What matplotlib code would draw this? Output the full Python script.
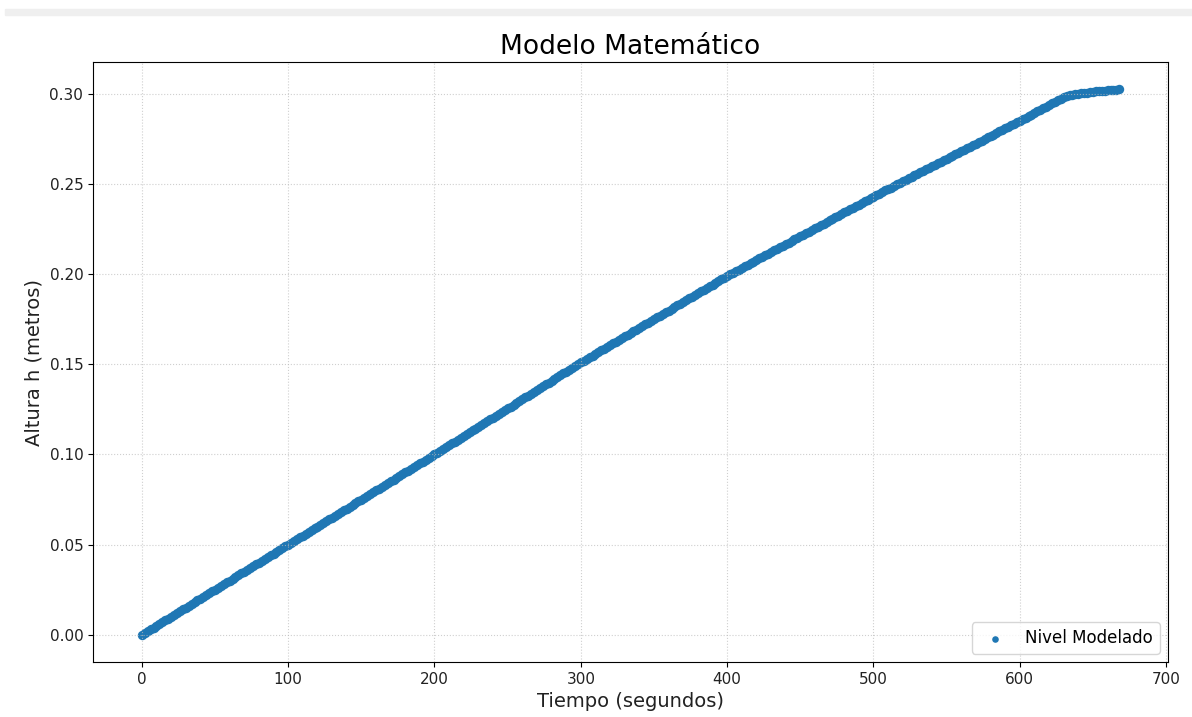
import numpy as np
import matplotlib
matplotlib.use("Agg")
import matplotlib.pyplot as plt
from matplotlib.patches import Rectangle

# Tiempo (s), one sample every 2 s
tiempo = np.arange(0, 669, 2)

# Altura h (m)
altura = [
    0.000, 0.001, 0.002, 0.003, 0.004, 0.005, 0.006, 0.007, 0.008, 0.009,
    0.010, 0.011, 0.012, 0.013, 0.014, 0.015, 0.016, 0.017, 0.018, 0.019,
    0.020, 0.021, 0.022, 0.023, 0.024, 0.025, 0.026, 0.027, 0.028, 0.029,
    0.030, 0.031, 0.032, 0.033, 0.034, 0.035, 0.036, 0.037, 0.038, 0.039,
    0.040, 0.041, 0.042, 0.043, 0.044, 0.045, 0.046, 0.047, 0.048, 0.049,
    0.050, 0.051, 0.052, 0.053, 0.054, 0.055, 0.056, 0.057, 0.058, 0.059,
    0.060, 0.061, 0.062, 0.063, 0.064, 0.065, 0.066, 0.067, 0.068, 0.069,
    0.070, 0.071, 0.072, 0.073, 0.074, 0.075, 0.076, 0.077, 0.078, 0.079,
    0.080, 0.081, 0.082, 0.083, 0.084, 0.085, 0.086, 0.087, 0.088, 0.089,
    0.090, 0.091, 0.092, 0.093, 0.094, 0.095, 0.096, 0.097, 0.098, 0.099,
    0.1000,
    # 202 .. 300
    0.1010, 0.1020, 0.1031, 0.1041, 0.1051, 0.1061, 0.1071, 0.1082, 0.1092, 0.1102,
    0.1112, 0.1122, 0.1133, 0.1143, 0.1153, 0.1163, 0.1173, 0.1184, 0.1194, 0.1204,
    0.1214, 0.1224, 0.1235, 0.1245, 0.1255, 0.1265, 0.1275, 0.1286, 0.1296, 0.1306,
    0.1316, 0.1326, 0.1337, 0.1347, 0.1357, 0.1367, 0.1377, 0.1388, 0.1398, 0.1408,
    0.1418, 0.1428, 0.1439, 0.1449, 0.1459, 0.1469, 0.1479, 0.1490, 0.1500, 0.1510,
    # 302 .. 400
    0.1520, 0.1529, 0.1539, 0.1548, 0.1558, 0.1568, 0.1577, 0.1587, 0.1596, 0.1606,
    0.1616, 0.1625, 0.1635, 0.1644, 0.1654, 0.1664, 0.1673, 0.1683, 0.1692, 0.1702,
    0.1712, 0.1721, 0.1731, 0.1740, 0.1750, 0.1760, 0.1769, 0.1779, 0.1788, 0.1798,
    0.1808, 0.1817, 0.1827, 0.1836, 0.1846, 0.1856, 0.1865, 0.1875, 0.1884, 0.1894,
    0.1904, 0.1913, 0.1923, 0.1932, 0.1942, 0.1952, 0.1961, 0.1971, 0.1980, 0.1990,
    # 402 .. 500
    0.1999, 0.2008, 0.2016, 0.2025, 0.2034, 0.2043, 0.2052, 0.2060, 0.2069, 0.2078,
    0.2087, 0.2096, 0.2104, 0.2113, 0.2122, 0.2131, 0.2140, 0.2148, 0.2157, 0.2166,
    0.2175, 0.2184, 0.2192, 0.2201, 0.2210, 0.2219, 0.2228, 0.2236, 0.2245, 0.2254,
    0.2263, 0.2272, 0.2280, 0.2289, 0.2298, 0.2307, 0.2316, 0.2324, 0.2333, 0.2342,
    0.2351, 0.2360, 0.2368, 0.2377, 0.2386, 0.2395, 0.2404, 0.2412, 0.2421, 0.2430,
    # 502 .. 600
    0.2438, 0.2447, 0.2455, 0.2464, 0.2472, 0.2480, 0.2489, 0.2497, 0.2506, 0.2514,
    0.2522, 0.2531, 0.2539, 0.2548, 0.2556, 0.2564, 0.2573, 0.2581, 0.2590, 0.2598,
    0.2606, 0.2615, 0.2623, 0.2632, 0.2640, 0.2648, 0.2657, 0.2665, 0.2674, 0.2682,
    0.2690, 0.2699, 0.2707, 0.2716, 0.2724, 0.2732, 0.2741, 0.2749, 0.2758, 0.2766,
    0.2774, 0.2783, 0.2791, 0.2800, 0.2808, 0.2816, 0.2825, 0.2833, 0.2842, 0.2850,
    # 602 .. 632
    0.2859, 0.2868, 0.2876, 0.2885, 0.2894, 0.2903, 0.2912, 0.2920, 0.2929, 0.2938,
    0.2947, 0.2956, 0.2964, 0.2973, 0.2982, 0.2990,
    # 634 .. 668, levels off
    0.2993, 0.2996, 0.2999, 0.3001, 0.3003, 0.3005, 0.3007, 0.3009, 0.3011, 0.3013,
    0.3015, 0.3016, 0.3018, 0.3019, 0.3020, 0.3022, 0.3023, 0.3025,
]

titulo = "Modelo Matemático"
etiqueta_x = "Tiempo (segundos)"
etiqueta_y = "Altura h (metros)"
leyenda = "Nivel Modelado"

fig = plt.figure(figsize=(11.92, 7.17), dpi=100)
# light band at the very top of the screenshot
fig.patches.append(Rectangle((0.004, 1 - 15 / 717), 0.996, 6 / 717,
                             transform=fig.transFigure, color="#efefef", zorder=0))
ax = fig.add_axes([0.078, 0.0767, 0.902, 0.8368])

ax.scatter(tiempo, altura, s=46, color="#1f77b4", linewidths=0, label=leyenda)

ax.set_title(titulo, fontsize=19)
ax.set_xlabel(etiqueta_x, fontsize=14, color="#222222")
ax.set_ylabel(etiqueta_y, fontsize=14, color="#222222")
ax.tick_params(labelsize=11, labelcolor="#222222")
ax.grid(True, linestyle=":", color="#bbbbbb", alpha=0.7)
ax.legend(loc="lower right", fontsize=12, markerscale=0.7)

fig.savefig("out.png", dpi=100)
